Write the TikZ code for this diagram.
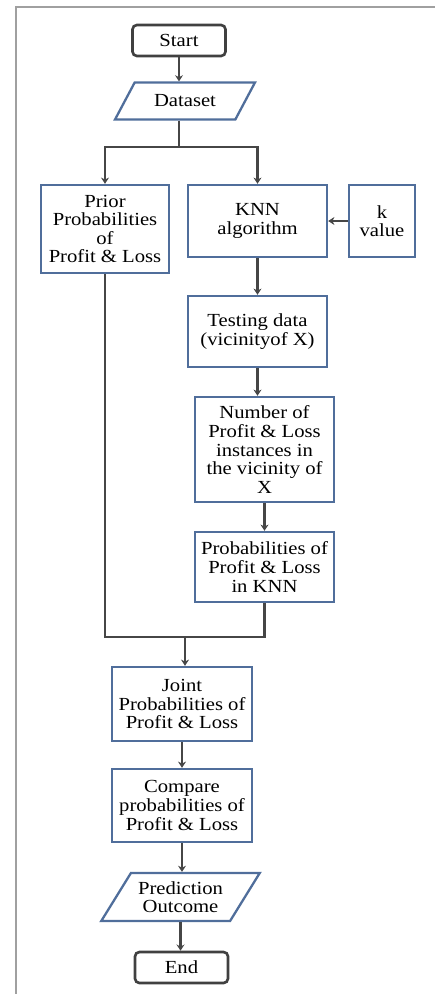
\documentclass[tikz,border=0pt]{standalone}
\usepackage{fontspec}
\setmainfont{Liberation Serif}[FakeStretch=1.12]
\usetikzlibrary{shapes.geometric,arrows.meta}

\definecolor{boxblue}{RGB}{80,110,155}
\definecolor{linkgray}{RGB}{70,70,70}
\definecolor{framegray}{RGB}{160,160,160}
\tikzset{
  flowpx/.style={x=0.02cm,y=-0.02cm,font=\fontsize{10.5}{10.6}\selectfont},
  stepbox/.style={draw=boxblue,line width=1.4pt,fill=white,align=center,inner sep=1pt},
  termbox/.style={draw=black!75,line width=1.5pt,rounded corners=2.5pt,fill=white,
    minimum width=1.86cm,minimum height=0.62cm,inner sep=1pt},
  iobox/.style={trapezium,trapezium stretches=true,draw=boxblue,line width=1.3pt,
    fill=white,align=center,inner sep=1pt},
  link/.style={draw=linkgray,line width=1.5pt},
  arrow/.style={link,-{Stealth[length=3.5pt,width=4.5pt]}}
}

\begin{document}
\begin{tikzpicture}[flowpx]
    \useasboundingbox (0,0) rectangle (435,994);
    \draw[framegray,line width=1.6pt] (16,994) -- (16,7) -- (435,7);
    % nodes
    \node[termbox] (start) at (179,40.5) {Start};
    \node[iobox,trapezium left angle=51,trapezium right angle=129,
      minimum width=2.8cm,minimum height=0.74cm] (dataset) at (185,101) {Dataset};
    \node[stepbox,minimum width=2.56cm,minimum height=1.76cm] (prior) at (105,229)
      {Prior\\Probabilities\\of\\Profit \& Loss};
    \node[stepbox,minimum width=2.78cm,minimum height=1.44cm] (knn) at (257.5,221)
      {KNN\\algorithm};
    \node[stepbox,minimum width=1.32cm,minimum height=1.44cm] (kval) at (382,221)
      {k\\value};
    \node[stepbox,minimum width=2.78cm,minimum height=1.42cm] (testing) at (257.5,331.5)
      {Testing data\\(vicinityof X)};
    \node[stepbox,minimum width=2.78cm,minimum height=2.1cm] (number) at (264.5,449.5)
      {Number of\\Profit \& Loss\\instances in\\the vicinity of\\X};
    \node[stepbox,minimum width=2.78cm,minimum height=1.4cm] (probknn) at (264.5,567)
      {Probabilities of\\Profit \& Loss\\in KNN};
    \node[stepbox,minimum width=2.8cm,minimum height=1.48cm] (joint) at (182,704)
      {Joint\\Probabilities of\\Profit \& Loss};
    \node[stepbox,minimum width=2.8cm,minimum height=1.46cm] (compare) at (182,805.5)
      {Compare\\probabilities of\\Profit \& Loss};
    \node[iobox,trapezium left angle=53,trapezium right angle=127,
      minimum width=3.18cm,minimum height=0.96cm] (predict) at (180.5,897)
      {Prediction\\Outcome};
    \node[termbox] (finish) at (181.5,967.5) {End};
    % connectors
    \coordinate (split) at (179,147);
    \coordinate (merge) at (185,637);
    \draw[arrow] (start) -- (start |- dataset.north);
    \draw[link] (split |- dataset.south) -- (split);
    \draw[arrow] (split) -| (prior.north);
    \draw[arrow] (split) -| (knn.north);
    \draw[arrow] (kval) -- (knn);
    \draw[arrow] (knn) -- (testing);
    \draw[arrow] (testing.south) -- (testing.south |- number.north);
    \draw[arrow] (number.south) -- (number.south |- probknn.north);
    \draw[link] (prior.south) |- (merge);
    \draw[link] (probknn.south) |- (merge);
    \draw[arrow] (merge) -- (merge |- joint.north);
    \draw[arrow] (joint) -- (compare);
    \draw[arrow] (compare.south) -- (compare.south |- predict.north);
    \draw[arrow] (predict.south) -- (predict.south |- finish.north);
\end{tikzpicture}
\end{document}
